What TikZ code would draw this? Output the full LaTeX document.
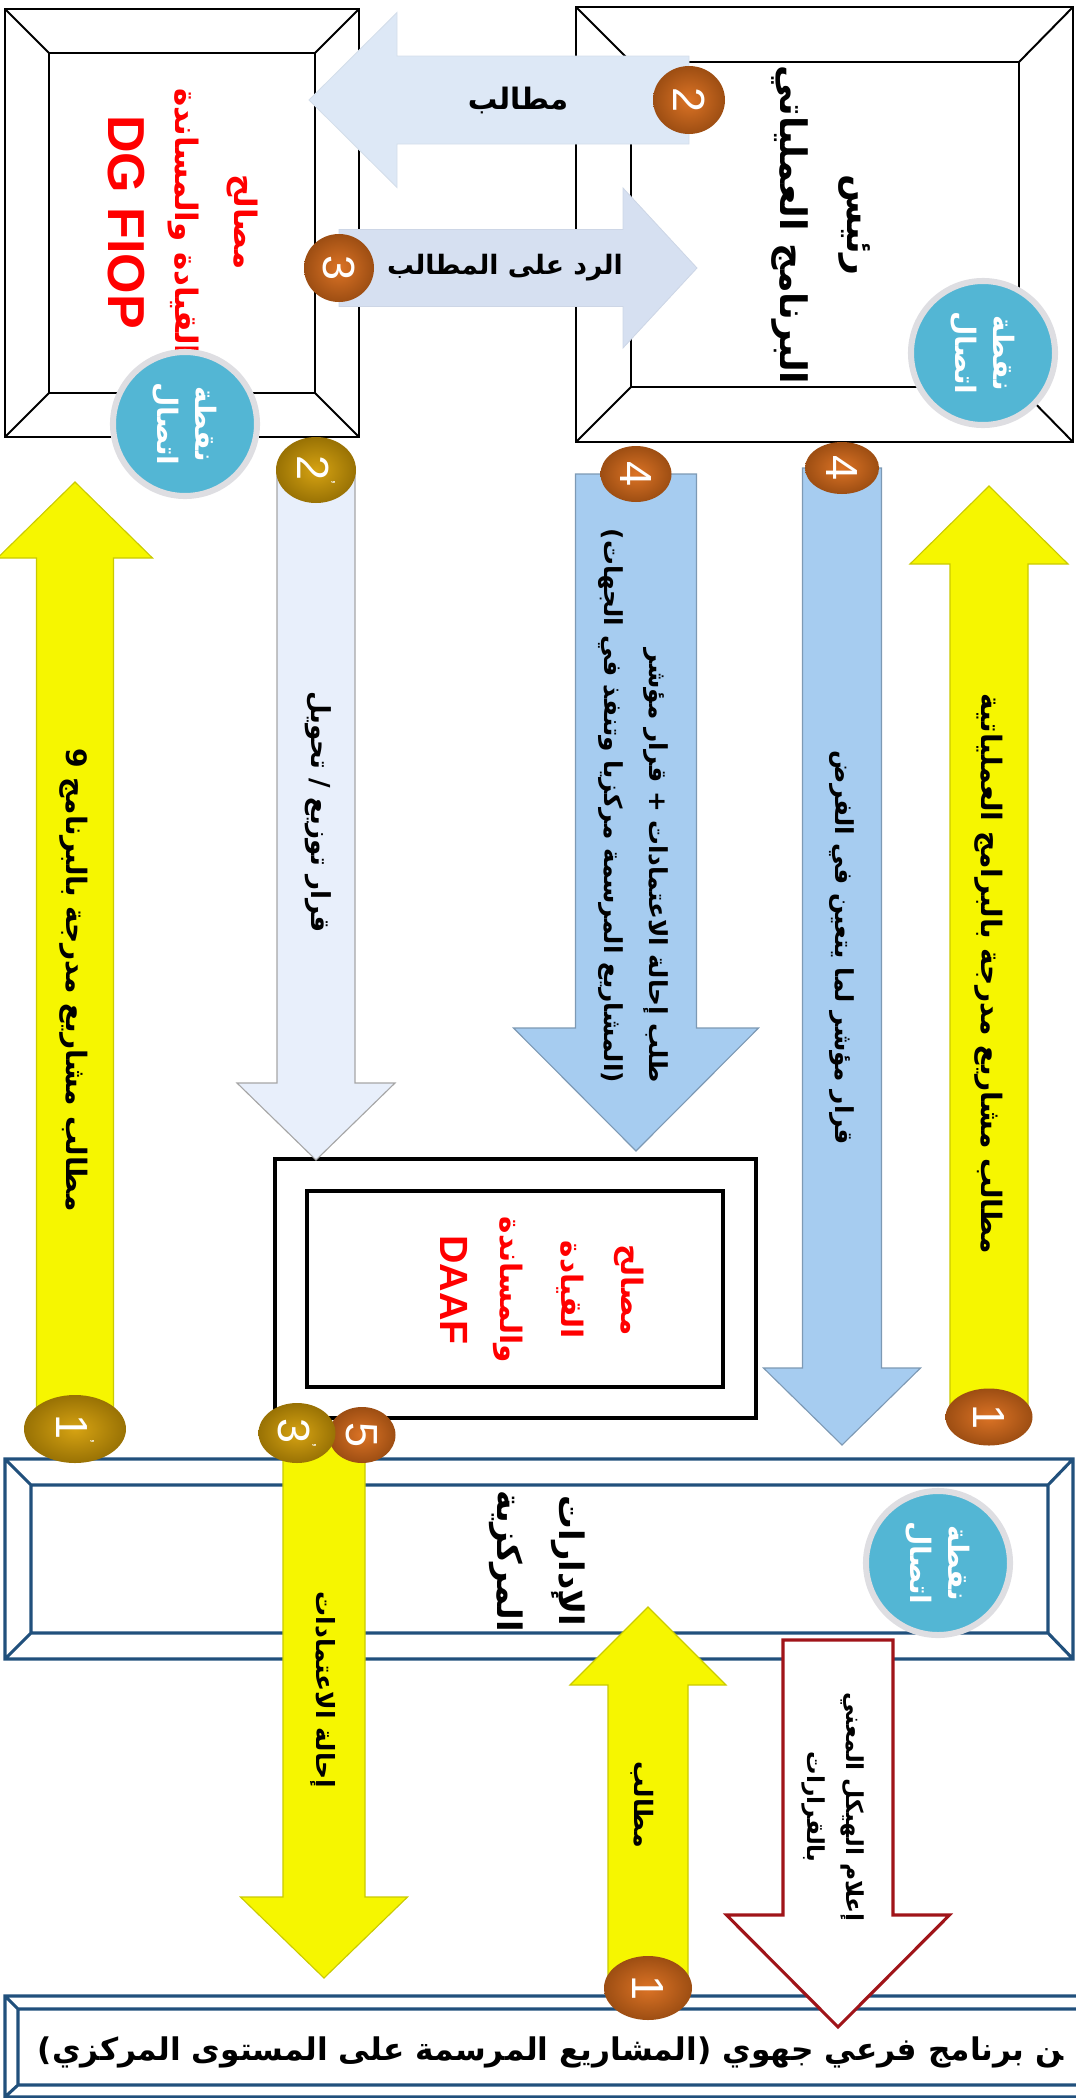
\documentclass[tikz,border=0pt]{standalone}
\usepackage{fontspec}
\setmainfont{Liberation Sans}
\newfontfamily\arfont[Script=Arabic]{DejaVu Sans}
\TeXXeTstate=1
\usetikzlibrary{shapes.geometric,calc}

\definecolor{cblue}{RGB}{83,182,212}
\definecolor{rimc}{RGB}{222,222,226}
\definecolor{ballor}{RGB}{218,108,26}
\definecolor{ballgold}{RGB}{212,158,6}
\definecolor{ayellow}{RGB}{246,246,0}
\definecolor{ablue}{RGB}{166,204,240}
\definecolor{apale}{RGB}{221,232,246}
\definecolor{alav}{RGB}{214,224,241}
\definecolor{awhite}{RGB}{232,239,251}
\definecolor{framblue}{RGB}{33,80,124}
\definecolor{darkred}{RGB}{160,20,25}

\newcommand{\pxu}{0.025cm}
\newcommand{\pr}{\raisebox{1.1ex}{\fontsize{12}{12}\selectfont'}}
% block arrow: [style]{tail}{tip}{half shaft}{half head}{head length}, sizes in px
\newcommand{\blockarrow}[6][]{%
  \coordinate (hb) at ($(#3)!#6*\pxu!(#2)$);
  \filldraw[#1] ($(#2)!#4*\pxu!90:(#3)$) -- ($(hb)!#4*\pxu!90:(#3)$)
    -- ($(hb)!#5*\pxu!90:(#3)$) -- (#3) -- ($(hb)!#5*\pxu!-90:(#3)$)
    -- ($(hb)!#4*\pxu!-90:(#3)$) -- ($(#2)!#4*\pxu!-90:(#3)$) -- cycle;}

\begin{document}
\begin{tikzpicture}[x=0.025cm, y=-0.025cm,
    frame/.style={draw=black, line width=1.4pt},
    navy/.style={draw=framblue, line width=2.2pt},
    lbl/.style={rotate=-90, align=center, inner sep=0pt,
      font=\arfont\bfseries\fontsize{20}{30}\selectfont},
    ball/.style={ellipse, inner sep=0pt, rotate=-90, text=white,
      font=\fontsize{32}{32}\selectfont, inner color=#1!95!white, outer color=#1!72!black},
    bsz/.style 2 args={minimum height=#1*0.025cm, minimum width=#2*0.025cm},
    contact/.style={circle, fill=cblue, draw=rimc, line width=4.3pt, minimum size=3.6cm,
      rotate=-90, align=center, inner sep=0pt, text=white,
      font=\arfont\bfseries\fontsize{20}{27}\selectfont},
    yelA/.style={fill=ayellow, draw=ayellow!82!black, line width=0.8pt},
    blueA/.style={fill=ablue, draw=ablue!75!black, line width=0.8pt},
    paleA/.style={fill=apale, draw=apale!90!gray, line width=0.6pt},
    lavA/.style={fill=alav, draw=alav!90!gray, line width=0.6pt},
    whiteA/.style={fill=awhite, draw=gray!70, line width=0.8pt},
    redA/.style={fill=white, draw=darkred, line width=2.2pt}]
  \useasboundingbox (0,0) rectangle (1076,2098);
  \clip (0,0) rectangle (1076,2098);

  % frames
  \draw[frame] (5,9) rectangle (359,437) (49,53) rectangle (315,393)
    (5,9) -- (49,53) (359,9) -- (315,53) (5,437) -- (49,393) (359,437) -- (315,393);
  \draw[frame] (576,7) rectangle (1073,442) (631,62) rectangle (1019,387)
    (576,7) -- (631,62) (1073,7) -- (1019,62) (576,442) -- (631,387) (1073,442) -- (1019,387);
  \draw[frame, line width=2.8pt] (275,1159) rectangle (756,1418) (307,1191) rectangle (723,1387);
  \draw[navy] (5,1459) rectangle (1073,1659) (31,1485) rectangle (1048,1633)
    (5,1459) -- (31,1485) (1073,1459) -- (1048,1485) (5,1659) -- (31,1633) (1073,1659) -- (1048,1633);
  \draw[navy] (5,1996) rectangle (1110,2097) (18,2009) rectangle (1110,2085)
    (5,1996) -- (18,2009) (5,2097) -- (18,2085);

  % arrow ends
  \coordinate (p2) at (689,100);  \coordinate (t2) at (309,100);
  \coordinate (p3) at (339,268);  \coordinate (t3) at (697,268);
  \coordinate (p2p) at (316,470); \coordinate (t2p) at (316,1160);
  \coordinate (p4a) at (636,474); \coordinate (t4a) at (636,1151);
  \coordinate (p4b) at (842,468); \coordinate (t4b) at (842,1445);
  \coordinate (p1r) at (989,1417); \coordinate (t1r) at (989,486);
  \coordinate (p1p) at (75,1429); \coordinate (t1p) at (75,482);
  \coordinate (p35) at (324,1434); \coordinate (t35) at (324,1978);
  \coordinate (p1b) at (648,1988); \coordinate (t1b) at (648,1607);
  \coordinate (p0) at (838,1640);  \coordinate (t0) at (838,2027);

  % arrows
  \blockarrow[paleA]{p2}{t2}{44}{87.5}{88}
  \blockarrow[lavA]{p3}{t3}{38.5}{80}{74}
  \blockarrow[whiteA]{p2p}{t2p}{39}{79}{77}
  \blockarrow[blueA]{p4a}{t4a}{60.5}{122.5}{123}
  \blockarrow[blueA]{p4b}{t4b}{39.5}{78.5}{77}
  \blockarrow[yelA]{p1r}{t1r}{39}{79}{78}
  \blockarrow[yelA]{p1p}{t1p}{38.5}{77.5}{76}
  \blockarrow[yelA]{p35}{t35}{41}{83.5}{81}
  \blockarrow[yelA]{p1b}{t1b}{40}{78}{78}
  \blockarrow[redA]{p0}{t0}{55}{111.5}{112}

  % box texts
  \node[lbl, text=red, font=\arfont\bfseries\fontsize{22}{42}\selectfont] (dgfiop) at (183,222)
    {\beginR مصالح\endR\\\beginR القيادة والمساندة\endR\\[6pt]{\rmfamily\fontsize{37}{40}\selectfont DG FIOP}};
  \node[lbl, font=\arfont\bfseries\fontsize{26}{48}\selectfont] (chief) at (821,225)
    {\beginR رئيس\endR\\\beginR البرنامج العملياتي\endR};
  \node[lbl, text=red, font=\arfont\bfseries\fontsize{21}{43}\selectfont] (daaf) at (542,1290)
    {\beginR مصالح\endR\\\beginR القيادة\endR\\\beginR والمساندة\endR\\{\rmfamily\fontsize{28}{34}\selectfont DAAF}};
  \node[lbl, font=\arfont\bfseries\fontsize{24}{44}\selectfont] (central) at (537,1561)
    {\beginR الإدارات\endR\\\beginR المركزية\endR};
  \node[anchor=east, inner sep=0pt, font=\arfont\bfseries\fontsize{22.2}{28}\selectfont] (subprog) at (1064,2052)
    {\beginR ^^^^200dن برنامج فرعي جهوي (المشاريع المرسمة على المستوى المركزي)\endR};

  % arrow texts
  \node[font=\arfont\bfseries\fontsize{21}{26}\selectfont] (req) at (518,100) {\beginR مطالب\endR};
  \node[font=\arfont\bfseries\fontsize{19}{24}\selectfont] (reply) at (505,268) {\beginR الرد على المطالب\endR};
  \node[lbl] (ylbl1) at (74,980) {\beginR مطالب مشاريع مدرجة بالبرنامج 9\endR};
  \node[lbl, font=\arfont\bfseries\fontsize{18.6}{30}\selectfont] (dist) at (318,812) {\beginR قرار توزيع / تحويل\endR};
  \node[lbl, align=right, font=\arfont\bfseries\fontsize{17.6}{32}\selectfont] (refer) at (633,806)
    {\beginR طلب إحالة الاعتمادات + قرار مؤشر\endR\\\beginR (المشاريع المرسمة مركزيا وتنفذ في الجهات)\endR};
  \node[lbl, font=\arfont\bfseries\fontsize{17.6}{30}\selectfont] (visa) at (842,948) {\beginR قرار مؤشر لما يتعين في الفرض\endR};
  \node[lbl] (ylbl2) at (989,974) {\beginR مطالب مشاريع مدرجة بالبرامج العملياتية\endR};
  \node[lbl, font=\arfont\bfseries\fontsize{17.8}{30}\selectfont] (credits) at (323,1690) {\beginR إحالة الاعتمادات\endR};
  \node[lbl, font=\arfont\bfseries\fontsize{18}{30}\selectfont] (req2) at (642,1805) {\beginR مطالب\endR};
  \node[lbl, font=\arfont\bfseries\fontsize{16.6}{28}\selectfont] (inform) at (833,1807)
    {\beginR إعلام الهيكل المعني\endR\\\beginR بالقرارات\endR};

  % contact points
  \node[contact] (cp1) at (185,424) {\beginR نقطة\endR\\\beginR اتصال\endR};
  \node[contact] (cp2) at (983,353) {\beginR نقطة\endR\\\beginR اتصال\endR};
  \node[contact] (cp3) at (938,1563) {\beginR نقطة\endR\\\beginR اتصال\endR};

  % numbered balls
  \node[ball=ballor, bsz={72}{68}] (b2) at (p2) {2};
  \node[ball=ballor, bsz={70}{68}] (b3) at (p3) {3};
  \node[ball=ballgold, bsz={80}{66}] (b2p) at (p2p) {2\pr};
  \node[ball=ballor, bsz={71}{56}] (b4a) at (p4a) {4};
  \node[ball=ballor, bsz={74}{52}] (b4b) at (p4b) {4};
  \node[ball=ballor, bsz={87}{57}] (b1r) at (p1r) {1};
  \node[ball=ballgold, bsz={102}{68}] (b1p) at (p1p) {1\pr};
  \node[ball=ballor, bsz={67}{56}] (b5) at (362,1435) {5};
  \node[ball=ballgold, bsz={77}{60}] (b3p) at (297,1433) {3\pr};
  \node[ball=ballor, bsz={88}{64}] (b1b) at (p1b) {1};
\end{tikzpicture}
\end{document}
